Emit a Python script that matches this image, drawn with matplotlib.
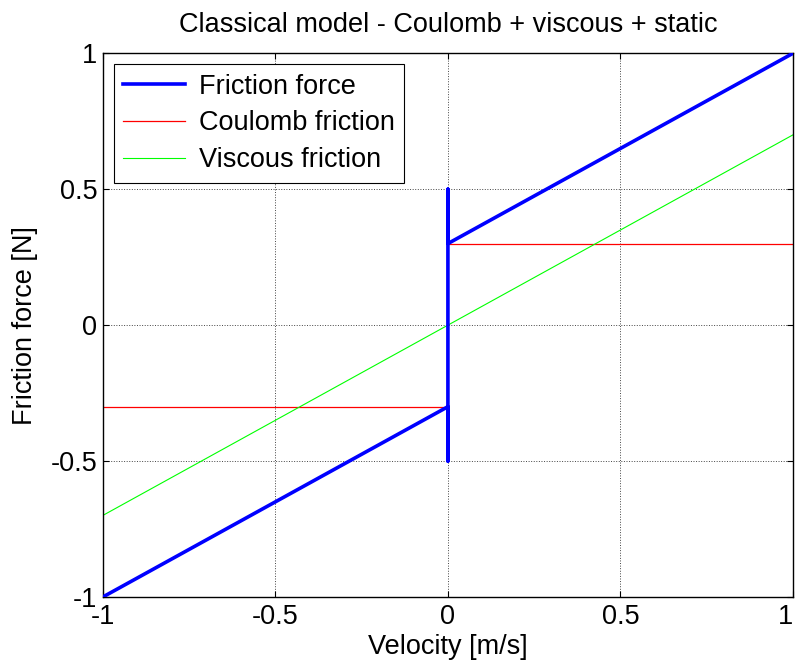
import matplotlib.pyplot as plt

plt.rcParams['font.family'] = ['Liberation Sans', 'DejaVu Sans']

# friction force (with static peak at zero velocity)
v_fric = [-1, 0, 0, 0, 0, 1]
f_fric = [-1, -0.3, -0.5, 0.5, 0.3, 1]

# coulomb friction, two branches
v_coul_neg = [-1, 0]
f_coul_neg = [-0.3, -0.3]
v_coul_pos = [0, 1]
f_coul_pos = [0.3, 0.3]

# viscous friction
v_visc = [-1, 1]
f_visc = [-0.7, 0.7]

xticks = [-1, -0.5, 0, 0.5, 1]
xticklabels = ['-1', '-0.5', '0', '0.5', '1']
yticks = [-1, -0.5, 0, 0.5, 1]
yticklabels = ['-1', '-0.5', '0', '0.5', '1']

fs = 19.5

fig = plt.figure(figsize=(7.97, 6.66), dpi=100)
ax = fig.add_axes([0.129, 0.1036, 0.866, 0.8164])

ax.plot(v_fric, f_fric, color='#0000ff', lw=2.6, label='Friction force', zorder=3)
ax.plot(v_coul_neg, f_coul_neg, color='#ff0000', lw=0.9, label='Coulomb friction', zorder=2)
ax.plot(v_coul_pos, f_coul_pos, color='#ff0000', lw=0.9, zorder=2)
ax.plot(v_visc, f_visc, color='#00ff00', lw=0.8, label='Viscous friction', zorder=2)

ax.set_xlim(-1, 1)
ax.set_ylim(-1, 1)
ax.set_xticks(xticks)
ax.set_xticklabels(xticklabels)
ax.set_yticks(yticks)
ax.set_yticklabels(yticklabels)
ax.tick_params(direction='in', length=4, width=0.8, top=True, right=True, labelsize=fs)
ax.tick_params(axis='x', pad=5)
ax.tick_params(axis='y', pad=4)
# keep the last x label inside the figure
ax.get_xticklabels()[-1].set_horizontalalignment('right')
ax.get_xticklabels()[-1].set_x(1)
ax.grid(True, color='#444444', linestyle=':', linewidth=0.7)
for s in ax.spines.values():
    s.set_linewidth(1.0)

ax.set_title('Classical model - Coulomb + viscous + static', fontsize=fs, pad=15)
ax.set_xlabel('Velocity [m/s]', fontsize=fs, labelpad=3)
ax.set_ylabel('Friction force [N]', fontsize=fs, labelpad=9)

leg = ax.legend(loc='upper left', fontsize=fs, handlelength=2.3, handletextpad=0.5,
                borderpad=0.35, labelspacing=0.4, fancybox=False, framealpha=1,
                edgecolor='black', borderaxespad=0.4)
leg.get_frame().set_linewidth(0.8)

fig.savefig('out.png', dpi=100)
